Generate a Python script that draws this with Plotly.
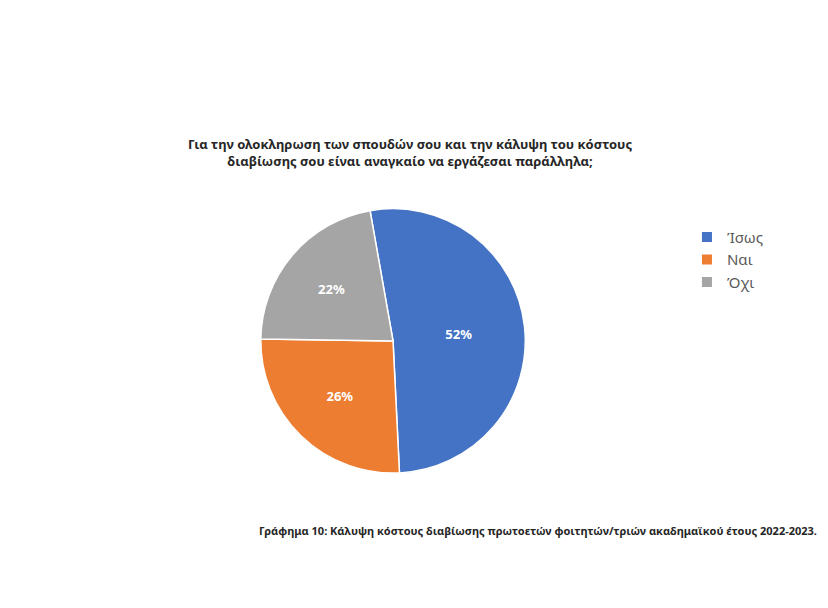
import plotly.graph_objects as go

categories = ["Ίσως", "Ναι", "Όχι"]
values = [52, 26, 22]
colors = ["#4472C4", "#ED7D31", "#A5A5A5"]
title_text = "Για την ολοκληρωση των σπουδών σου και την κάλυψη του κόστους<br>διαβίωσης σου είναι αναγκαίο να εργάζεσαι παράλληλα;"
caption_text = "Γράφημα 10: Κάλυψη κόστους διαβίωσης πρωτοετών φοιτητών/τριών ακαδημαϊκού έτους 2022-2023."

fig = go.Figure(go.Pie(
    labels=categories,
    values=values,
    sort=False,
    direction="clockwise",
    rotation=-10,
    marker=dict(colors=colors, line=dict(color="white", width=1.5)),
    textinfo="percent",
    texttemplate="<b>%{percent:.0%}</b>",
    textposition="inside",
    insidetextorientation="horizontal",
    textfont=dict(color="white", size=13, family="Noto Sans"),
    domain=dict(x=[0.305, 0.625], y=[0.235, 0.67]),
    hoverinfo="label+percent",
))

fig.update_layout(
    width=828, height=608,
    margin=dict(l=0, r=0, t=0, b=0),
    paper_bgcolor="white",
    plot_bgcolor="white",
    font=dict(family="Noto Sans", color="#404040"),
    showlegend=True,
    legend=dict(x=0.82, y=0.65, xanchor="left", yanchor="top",
                font=dict(size=15, color="#595959"),
                itemsizing="constant", tracegroupgap=10),
    annotations=[
        dict(text="<b>" + title_text + "</b>", x=0.485, y=0.73, xref="paper", yref="paper",
             showarrow=False, font=dict(size=13, color="#262626"), align="center",
             xanchor="center", yanchor="bottom"),
        dict(text="<b>" + caption_text + "</b>", x=0.64, y=0.14, xref="paper", yref="paper",
             showarrow=False, font=dict(size=11, color="#262626"), align="center",
             xanchor="center", yanchor="middle"),
    ],
)

fig.write_html("out.html")
